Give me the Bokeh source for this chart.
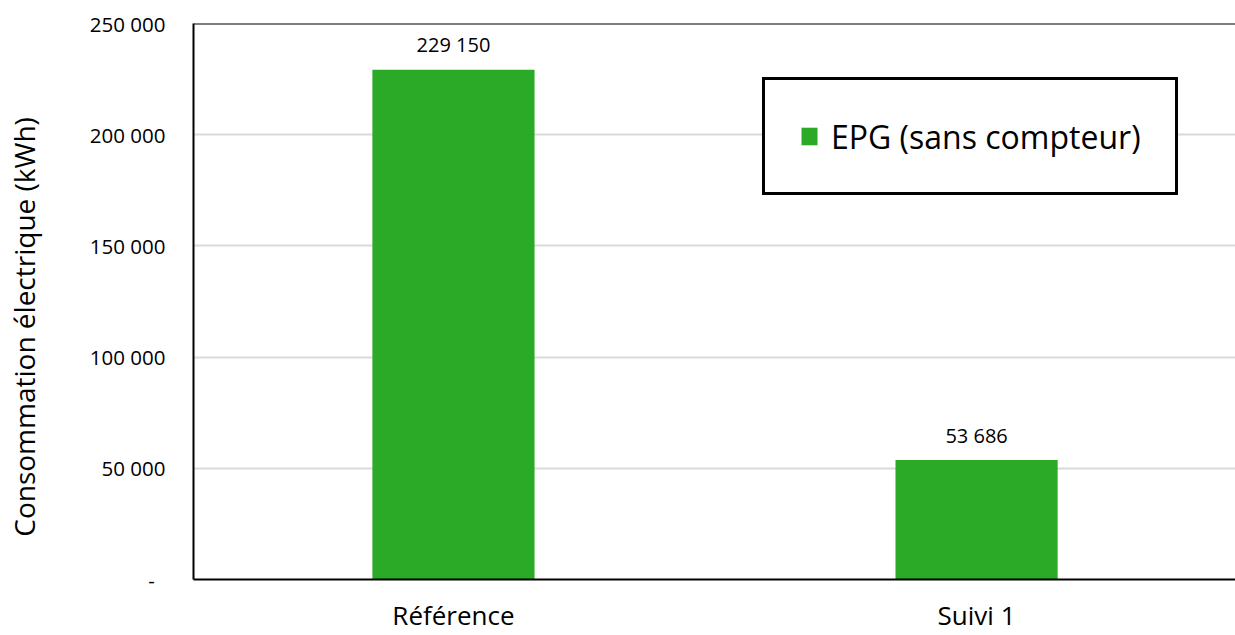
from bokeh.plotting import figure
from bokeh.models import ColumnDataSource, Range1d, FixedTicker, Span, Legend, LegendItem
from bokeh.core.properties import value
from bokeh.embed import file_html
from bokeh.resources import INLINE

categories = ["Référence", "Suivi 1"]
consumption = [229150, 53686]
series_name = "EPG (sans compteur)"
y_ticks = [0, 50000, 100000, 150000, 200000, 250000]
y_tick_labels = ["-\u00a0\u00a0", "50 000", "100 000", "150 000", "200 000", "250 000"]
y_title = "Consommation électrique (kWh)"

FONT = "Open Sans"
GREEN = "#2AAA27"

xs = list(range(len(categories)))
labels = [f"{v:,}".replace(",", " ") for v in consumption]
src = ColumnDataSource(dict(x=xs, v=consumption, lbl=labels, cat=categories))

p = figure(width=1235, height=635, output_backend="svg", toolbar_location=None,
           x_range=Range1d(-0.497, 1.495), y_range=Range1d(0, 250000),
           min_border_left=193, min_border_top=23, min_border_bottom=56, min_border_right=0)
p.background_fill_color = "white"
p.border_fill_color = "white"
p.outline_line_color = None

bars = p.vbar(x="x", top="v", width=0.31, source=src, fill_color=GREEN, line_color=None)
p.text(x="x", y="v", text="lbl", source=src, text_align="center", text_baseline="middle",
       y_offset=-25, text_font=value(FONT), text_font_size="20px", text_color="#000000")

# top border of plot area
p.add_layout(Span(location=250000, dimension="width", line_color="black", line_width=2))

# x axis
p.xaxis.ticker = FixedTicker(ticks=xs)
p.xaxis.major_label_overrides = {i: c for i, c in zip(xs, categories)}
p.xaxis.major_label_text_font = FONT
p.xaxis.major_label_text_font_size = "26px"
p.xaxis.major_label_text_color = "black"
p.xaxis.major_label_standoff = 11
p.xaxis.major_tick_line_color = None
p.xaxis.minor_tick_line_color = None
p.xaxis.axis_line_color = "black"
p.xaxis.axis_line_width = 2

# y axis
p.yaxis.ticker = FixedTicker(ticks=y_ticks)
p.yaxis.major_label_overrides = {t: l for t, l in zip(y_ticks, y_tick_labels)}
p.yaxis.major_label_text_font = FONT
p.yaxis.major_label_text_font_size = "20.5px"
p.yaxis.major_label_text_color = "black"
p.yaxis.major_label_standoff = 22
p.yaxis.major_tick_line_color = None
p.yaxis.minor_tick_line_color = None
p.yaxis.axis_line_color = "black"
p.yaxis.axis_line_width = 2
p.yaxis.axis_label = y_title + "\u00a0" * 7
p.yaxis.axis_label_text_font = FONT
p.yaxis.axis_label_text_font_size = "28px"
p.yaxis.axis_label_text_font_style = "normal"
p.yaxis.axis_label_text_color = "black"
p.yaxis.axis_label_standoff = 44

p.xgrid.grid_line_color = None
p.ygrid.grid_line_color = "#D9D9D9"
p.ygrid.grid_line_width = 2

legend = Legend(items=[LegendItem(label=series_name, renderers=[bars])],
                location=(569, 384), orientation="vertical",
                label_text_font=FONT, label_text_font_size="32px", label_text_color="black",
                glyph_width=20, glyph_height=22, label_standoff=12, label_height=44,
                padding=34, spacing=0, margin=0,
                border_line_color="black", border_line_alpha=1.0, border_line_width=3,
                background_fill_color="white", background_fill_alpha=1.0)
p.add_layout(legend, "center")

open("out.html", "w").write(file_html(p, INLINE))
